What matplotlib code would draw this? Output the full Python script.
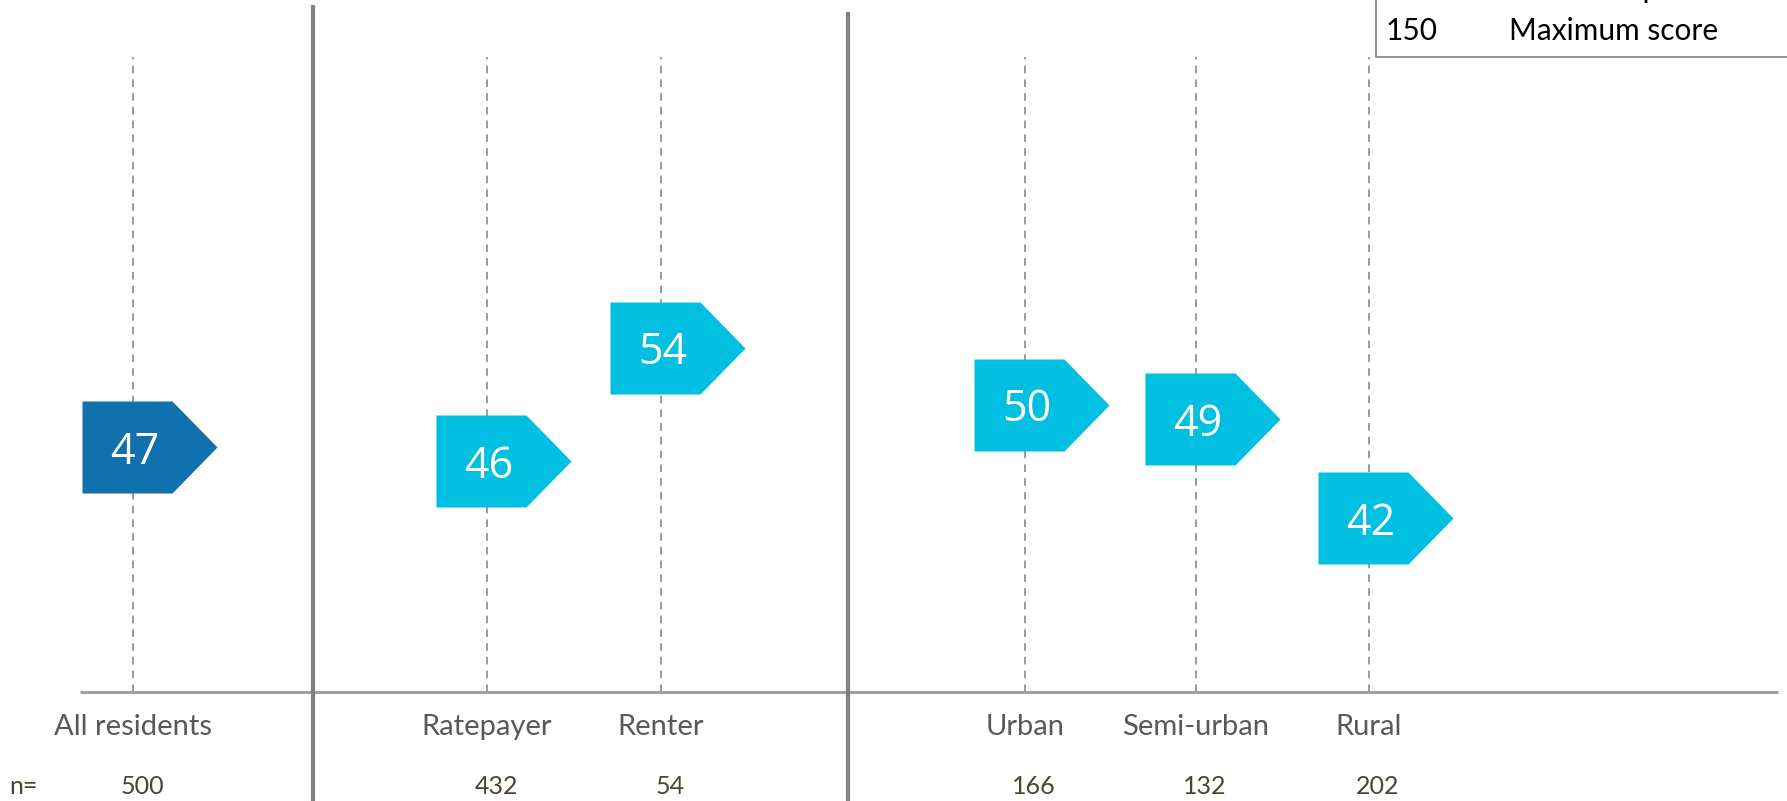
import matplotlib
matplotlib.use("Agg")
import matplotlib.pyplot as plt
from matplotlib.path import Path

# ---- data ----
categories = ["All residents", "Ratepayer", "Renter", "Urban", "Semi-urban", "Rural"]
scores = [47, 46, 54, 50, 49, 42]
n_values = [500, 432, 54, 166, 132, 202]
legend_rows = [("100", "Neutral reputation"), ("150", "Maximum score")]

# ---- layout (pixel positions on the 1787x801 canvas) ----
W, H = 1787, 801
x_pos = [133, 487, 661, 1025, 1196, 1369]
separators = [(313, 7), (848, 14)]
colors = ["#1171ae", "#00bfe0", "#00bfe0", "#00bfe0", "#00bfe0", "#00bfe0"]

# value axis mapping: pixel y = y0 - (v - v0) * k
k = 14.22
v0, y0 = 48.0, 433.0
v_top = v0 + y0 / k
v_bot = v0 - (H - y0) / k


def v_of(py):
    return v0 - (py - y0) / k


fig = plt.figure(figsize=(W / 100, H / 100), dpi=100)
ax = fig.add_axes([0, 0, 1, 1])
ax.set_xlim(0, W)
ax.set_ylim(v_bot, v_top)
ax.axis("off")

base_v = v_of(692)
dash_top = v_of(57)

# baseline
ax.plot([80, 1778], [base_v, base_v], color="#a0a0a0", lw=2.2, solid_capstyle="butt")

# dashed guides
for x in x_pos:
    ax.plot([x, x], [base_v, dash_top], color="#808080", lw=1.1,
            linestyle=(0, (5, 4)), zorder=1)

# separators
for x, top in separators:
    ax.plot([x, x], [v_bot, v_of(top)], color="#808080", lw=3, zorder=2)

# arrow marker path (pixel-proportional)
verts = [(-51, -46), (39, -46), (84, 0), (39, 46), (-51, 46), (-51, -46)]
codes = [Path.MOVETO] + [Path.LINETO] * 4 + [Path.CLOSEPOLY]
arrow = Path([(vx, -vy) for vx, vy in verts], codes)
msize = 2 * 84 * 72 / 100

for x, s, c in zip(x_pos, scores, colors):
    ax.plot([x], [s], marker=arrow, markersize=msize, color=c,
            markeredgewidth=0, linestyle="none", zorder=3)
    ax.text(x + 2, s, str(s), color="white", fontsize=31, family="Open Sans",
            ha="center", va="center_baseline", zorder=4)

# category labels and n values
for x, cat, n in zip(x_pos, categories, n_values):
    ax.text(x, v_of(727), cat, color="#595959", fontsize=21, family="Lato",
            ha="center", va="center")
    ax.text(x + 9, v_of(787), str(n), color="#4a4532", fontsize=18,
            family="Lato", ha="center", va="center")
ax.text(9, v_of(787), "n=", color="#4a4532", fontsize=18, family="Lato",
        ha="left", va="center")

# legend box (partially outside the canvas)
ax.plot([1376, 1376, W + 5], [v_of(-5), v_of(57), v_of(57)], color="#7f7f7f",
        lw=1.2, clip_on=False)
row_base = [-2, 40]
for (num, lab), ry in zip(legend_rows, row_base):
    ax.text(1386, v_of(ry), num, color="black", fontsize=21.5, family="Lato",
            ha="left", va="baseline")
    ax.text(1509, v_of(ry), lab, color="black", fontsize=21.5, family="Lato",
            ha="left", va="baseline")

fig.savefig("out.png", dpi=100)
